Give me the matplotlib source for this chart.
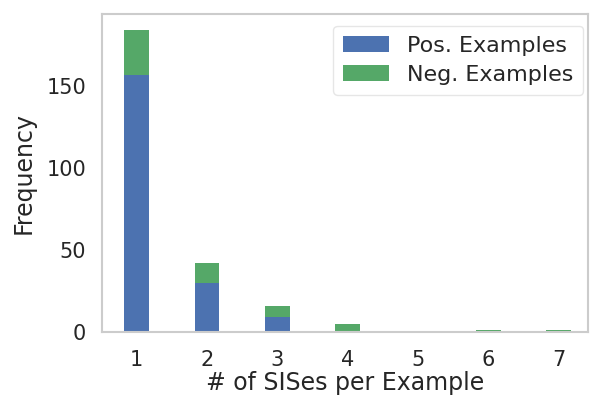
import matplotlib
matplotlib.use("Agg")
import matplotlib.pyplot as plt
import seaborn as sns
import numpy as np

n_sises = [1, 2, 3, 4, 5, 6, 7]
pos_counts = [156.5, 30, 9, 0, 0, 0, 0]
neg_counts = [28, 12, 7, 5, 0, 1, 1]

sns.set_style("whitegrid")
plt.rcParams['font.family'] = ['DejaVu Sans']

fig = plt.figure(figsize=(5.91, 4.0), dpi=100)
ax = fig.add_axes([0.172, 0.17, 0.823, 0.795])

blue = '#4C72B0'
green = '#55A868'
width = 0.35

ax.bar(n_sises, pos_counts, width=width, color=blue, label='Pos. Examples', linewidth=0)
ax.bar(n_sises, neg_counts, width=width, bottom=pos_counts, color=green,
       label='Neg. Examples', linewidth=0)

ax.set_xlim(0.5, 7.42)
ax.set_ylim(0, 194)
ax.set_xticks(n_sises)
ax.set_yticks([0, 50, 100, 150])
ax.grid(False)
for s in ax.spines.values():
    s.set_color('#cccccc')
    s.set_linewidth(1.5)
ax.tick_params(labelsize=15, colors='#262626', length=0)
ax.tick_params(axis='x', pad=13)
ax.tick_params(axis='y', pad=11)

ax.set_xlabel('# of SISes per Example', fontsize=17, color='#262626', labelpad=1)
ax.set_ylabel('Frequency', fontsize=17, color='#262626', labelpad=8)

leg = ax.legend(loc='upper right', fontsize=16, frameon=True, handlelength=2.05,
                handleheight=0.73, handletextpad=0.8, borderpad=0.45,
                labelspacing=0.4, borderaxespad=0,
                bbox_to_anchor=(0.99, 0.963))
leg.get_frame().set_edgecolor('#e0e0e0')
for t in leg.get_texts():
    t.set_color('#262626')

fig.savefig('out.png', dpi=100)
